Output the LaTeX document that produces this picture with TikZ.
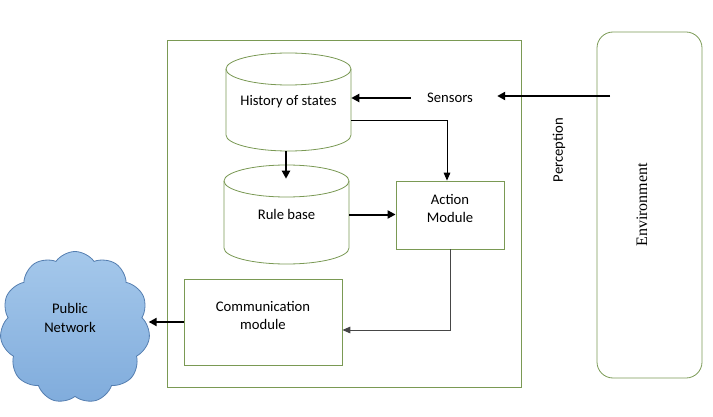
\documentclass[tikz,border=0pt]{standalone}
\usepackage{fontspec}
\setmainfont{Carlito}
\newfontfamily\serifenv{Liberation Serif}
\usetikzlibrary{arrows.meta,shapes.symbols}
\definecolor{boxgreen}{RGB}{122,153,84}
\definecolor{cloudtop}{RGB}{165,200,235}
\definecolor{cloudbot}{RGB}{128,172,220}
\definecolor{cloudline}{RGB}{84,126,176}
\definecolor{greyline}{RGB}{70,70,70}
\begin{document}
\begin{tikzpicture}[x=0.75pt,y=-0.75pt, font=\fontsize{11}{14}\selectfont,
  gbox/.style={draw=boxgreen, line width=0.6pt},
  bodybox/.style={inner sep=0pt, align=center},
  lbl/.style={inner sep=0pt, align=center},
  thickarrow/.style={line width=1.5pt, -{Triangle[length=6pt,width=6pt]}},
  thinarrow/.style={line width=0.75pt, -{Triangle[length=6pt,width=5pt]}}]
\useasboundingbox (0,0) rectangle (713,417);

% outer agent box
\node[gbox, minimum width=265.5pt, minimum height=260.25pt] (agent) at (344,213.5) {};

% history cylinder
\draw[gbox, fill=white] (288.5,69) ellipse [x radius=46.875pt, y radius=12pt];
\draw[gbox] (226,69) -- (226,135) arc[start angle=180, end angle=360, x radius=46.875pt, y radius=12pt] -- (351,69);
\node[bodybox, minimum width=93.75pt, minimum height=73.5pt] (hist) at (288.5,102) {History of states};

% rule base cylinder
\draw[gbox, fill=white] (286.5,181) ellipse [x radius=46.875pt, y radius=12pt];
\draw[gbox] (224,181) -- (224,248) arc[start angle=180, end angle=360, x radius=46.875pt, y radius=12pt] -- (349,181);
\node[bodybox, minimum width=93.75pt, minimum height=74.25pt] (rule) at (286.5,214.5) {Rule base};

% action module
\node[gbox, minimum width=81pt, minimum height=51pt] (action) at (450,215) {};
\node[lbl] (actiontxt) at (450,208.5) {Action\\Module};

% communication module
\node[gbox, minimum width=118.5pt, minimum height=64.5pt] (comm) at (263,322) {};
\node[lbl] (commtxt) at (263,315.5) {Communication\\module};

% sensors
\node[lbl] (sensors) at (450,98) {Sensors};

% perception
\node[lbl, rotate=90] (perc) at (559,150) {Perception};

% environment
\node[gbox, rounded corners=12pt, minimum width=78.75pt, minimum height=259.5pt] (env) at (649.5,205) {};
\node[lbl, rotate=90, font=\serifenv\fontsize{12}{14}\selectfont] (envtxt) at (642,205) {Environment};
\coordinate (envout) at (610,96);

% public network cloud
\node[cloud, cloud puffs=11, cloud puff arc=110, aspect=1, draw=cloudline, line width=0.6pt,
      top color=cloudtop, bottom color=cloudbot,
      minimum width=112.5pt, minimum height=114pt, inner sep=0pt] (cloud) at (75,327.5) {};
\node[lbl] (cloudtxt) at (70,318) {Public\\Network};

% connectors
\draw[thickarrow] (envout) -- ([xshift=18pt]sensors.east |- envout);
\draw[thickarrow] ([xshift=-12pt]sensors.west) -- (hist.east |- sensors.west);
\draw[thinarrow] ([yshift=-14.25pt]hist.east) -| ([xshift=-2.25pt]action.north);
\draw[thickarrow] (hist.south -| 286,0) -- ([yshift=-10.5pt]rule.north -| 286,0);
\draw[thickarrow] (rule.east) -- (action.west |- rule.east);
\draw[thinarrow, draw=greyline] (action.south) |- ([yshift=-6pt]comm.east);
\draw[thickarrow] (comm.west) -- (cloud.east |- comm.west);
\end{tikzpicture}
\end{document}
